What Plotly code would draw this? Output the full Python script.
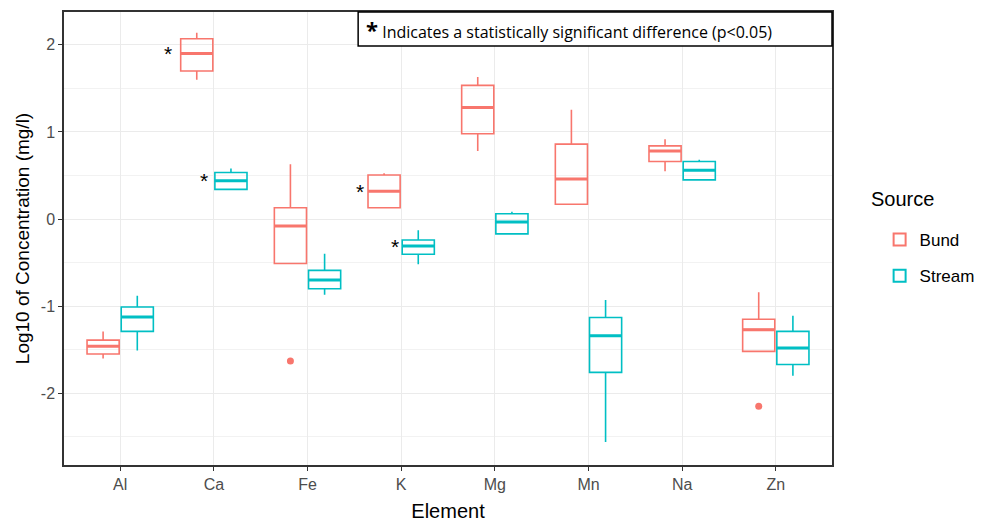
import plotly.graph_objects as go

elements = ["Al", "Ca", "Fe", "K", "Mg", "Mn", "Na", "Zn"]

bund_lower = [-1.60, 1.60, -0.51, 0.13, 0.78, 0.17, 0.55, -1.52]
bund_q1 = [-1.55, 1.70, -0.51, 0.13, 0.98, 0.17, 0.66, -1.52]
bund_median = [-1.46, 1.90, -0.08, 0.32, 1.28, 0.46, 0.78, -1.27]
bund_q3 = [-1.39, 2.07, 0.13, 0.505, 1.535, 0.86, 0.84, -1.15]
bund_upper = [-1.29, 2.14, 0.63, 0.525, 1.63, 1.255, 0.915, -0.84]

stream_lower = [-1.51, 0.34, -0.87, -0.52, -0.17, -2.56, 0.45, -1.80]
stream_q1 = [-1.29, 0.34, -0.80, -0.405, -0.17, -1.76, 0.45, -1.67]
stream_median = [-1.125, 0.44, -0.70, -0.31, -0.035, -1.34, 0.56, -1.48]
stream_q3 = [-1.01, 0.535, -0.59, -0.24, 0.06, -1.13, 0.66, -1.29]
stream_upper = [-0.88, 0.58, -0.40, -0.13, 0.085, -0.93, 0.68, -1.11]

bund_outlier_x = ["Fe", "Zn"]
bund_outlier_y = [-1.63, -2.15]

y_tickvals = [-2, -1, 0, 1, 2]
y_ticktext = ["-2", "-1", "0", "1", "2"]

# significance markers: (element, group, y)
sig_elements = ["Ca", "Ca", "K", "K"]
sig_groups = ["Bund", "Stream", "Bund", "Stream"]
sig_y = [1.90, 0.44, 0.32, -0.31]

BUND = "#F8766D"
STREAM = "#00BFC4"

fig = go.Figure()

def add_group(name, color, lower, q1, med, q3, upper):
    fig.add_trace(go.Box(
        name=name, x=elements, q1=q1, median=med, q3=q3,
        lowerfence=lower, upperfence=upper,
        offsetgroup=name, alignmentgroup="a", legendgroup=name,
        line=dict(color=color, width=1.6), fillcolor="rgba(255,255,255,0)",
        whiskerwidth=0, boxpoints=False, hoverinfo="skip",
    ))
    # thicker median line overlay
    fig.add_trace(go.Box(
        name=name, x=elements, q1=med, median=med, q3=med,
        lowerfence=med, upperfence=med,
        offsetgroup=name, alignmentgroup="a", legendgroup=name,
        line=dict(color=color, width=3), fillcolor="rgba(255,255,255,0)",
        whiskerwidth=0, boxpoints=False, showlegend=False, hoverinfo="skip",
    ))

add_group("Bund", BUND, bund_lower, bund_q1, bund_median, bund_q3, bund_upper)
add_group("Stream", STREAM, stream_lower, stream_q1, stream_median, stream_q3, stream_upper)

# outliers
for ox, oy in zip(bund_outlier_x, bund_outlier_y):
    fig.add_trace(go.Box(
        name="Bund", x=[ox], y=[oy], offsetgroup="Bund", alignmentgroup="a", legendgroup="Bund",
        boxpoints="all", jitter=0, pointpos=0,
        marker=dict(color=BUND, size=7),
        line=dict(width=0, color="rgba(0,0,0,0)"), fillcolor="rgba(0,0,0,0)",
        showlegend=False, hoverinfo="skip",
    ))

shift = {("Ca", "Bund"): -46, ("Ca", "Stream"): -10, ("K", "Bund"): -41, ("K", "Stream"): -6}
for e, g, yv in zip(sig_elements, sig_groups, sig_y):
    fig.add_annotation(x=e, y=yv, xref="x", yref="y", text="*", showarrow=False,
                       xshift=shift[(e, g)], yshift=0,
                       font=dict(family="Liberation Sans", size=21, color="black"))

# note box
fig.add_shape(type="rect", xref="paper", yref="paper", x0=0.383, x1=1.0, y0=0.925, y1=1.0,
              line=dict(color="black", width=1.5), fillcolor="white", layer="above")
fig.add_annotation(xref="paper", yref="paper", x=0.383, y=0.9625, xanchor="left", yanchor="middle",
                   xshift=6, showarrow=False,
                   text="<span style='font-size:22px'><b>*</b></span> Indicates a statistically significant difference (p<0.05)",
                   font=dict(family="Open Sans", size=16, color="black"))

# legend title
fig.add_annotation(xref="paper", yref="paper", x=1.048, y=(465 - 199) / 453, xanchor="left", yanchor="middle",
                   text="Source", showarrow=False, font=dict(family="Liberation Sans", size=20, color="black"))

fig.update_layout(
    width=976, height=515,
    margin=dict(l=56, r=152, t=4, b=58),
    paper_bgcolor="white", plot_bgcolor="white",
    boxmode="group", boxgap=0.27, boxgroupgap=0.06,
    font=dict(family="Liberation Sans", color="black"),
    legend=dict(font=dict(size=17, color="black"),
                x=1.062, y=(465 - 222) / 453, xanchor="left", yanchor="top",
                traceorder="grouped", tracegroupgap=11, itemsizing="constant"),
    showlegend=True,
)
fig.update_xaxes(
    type="category", categoryorder="array", categoryarray=elements,
    range=[-0.6, 7.6], showgrid=True, gridcolor="#ebebeb", gridwidth=1.2,
    showline=True, linecolor="#333333", linewidth=1.5, mirror=True,
    ticks="outside", ticklen=4, tickcolor="#333333",
    tickfont=dict(size=16, color="#4d4d4d"),
    title=dict(text="Element", font=dict(size=20, color="black"), standoff=12),
    zeroline=False, automargin=False,
)
fig.update_yaxes(
    range=[-2.824, 2.377], tickvals=y_tickvals, ticktext=y_ticktext,
    showgrid=True, gridcolor="#ebebeb", gridwidth=1.2,
    minor=dict(tickvals=[-2.5, -1.5, -0.5, 0.5, 1.5], showgrid=True, gridcolor="#f2f2f2", gridwidth=1),
    showline=True, linecolor="#333333", linewidth=1.5, mirror=True,
    ticks="outside", ticklen=4, tickcolor="#333333",
    tickfont=dict(size=16, color="#4d4d4d"),
    title=dict(text="Log10 of Concentration (mg/l)", font=dict(size=19, color="black"), standoff=6),
    zeroline=False, automargin=False,
)

fig.write_html("out.html")
